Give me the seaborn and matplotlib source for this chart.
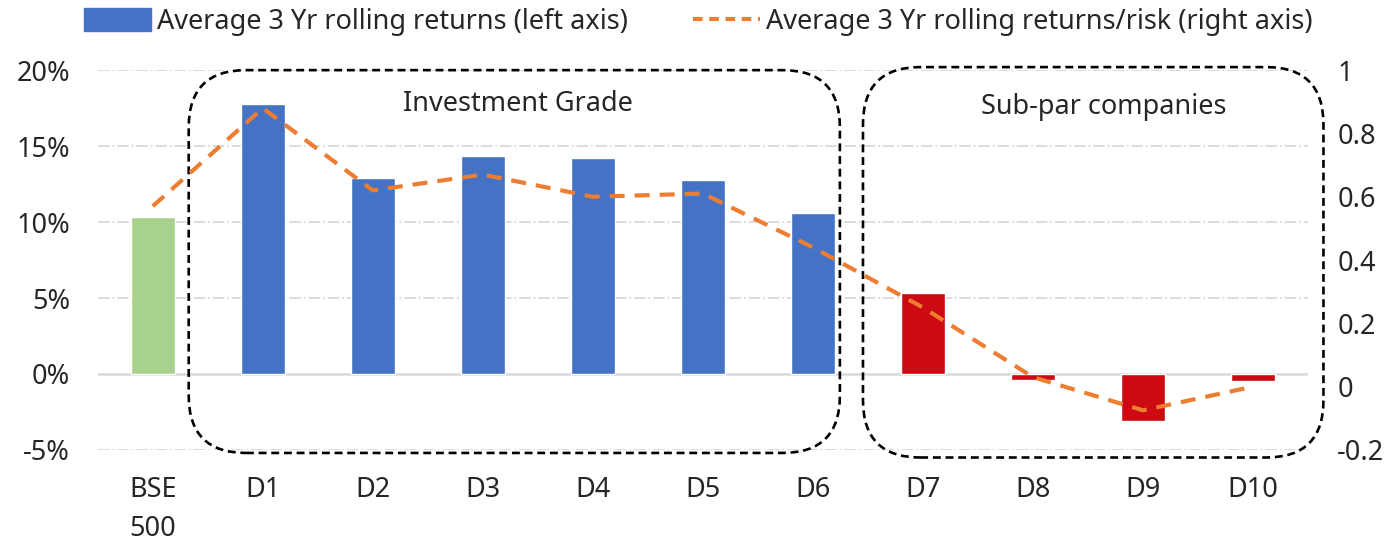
import matplotlib
matplotlib.use("Agg")
import matplotlib.pyplot as plt
import seaborn as sns
import pandas as pd
import numpy as np
from matplotlib.patches import FancyBboxPatch, Patch
from matplotlib.lines import Line2D
from matplotlib.ticker import FuncFormatter

# data
categories = ["BSE\n500", "D1", "D2", "D3", "D4", "D5", "D6", "D7", "D8", "D9", "D10"]
returns_pct = [10.3, 17.8, 12.9, 14.35, 14.2, 12.8, 10.6, 5.3, -0.42, -3.1, -0.45]
return_per_risk = [0.57, 0.88, 0.62, 0.67, 0.60, 0.61, 0.44, 0.25, 0.03, -0.075, 0.0]
bar_colors = ["#A9D18E"] + ["#4472C4"] * 6 + ["#CC0A12"] * 4

sns.set_theme(style="white")
plt.rcParams["font.family"] = ["Noto Sans", "DejaVu Sans"]
FS = 19.5

df = pd.DataFrame({"bucket": categories, "ret": returns_pct, "rr": return_per_risk})
df["pos"] = np.arange(len(df))

fig = plt.figure(figsize=(13.96, 5.48), dpi=100)
ax = fig.add_axes([0.070, 0.179, 0.867, 0.693])

sns.barplot(data=df, x="bucket", y="ret", hue="bucket",
            palette=dict(zip(categories, bar_colors)), width=0.4,
            legend=False, ax=ax, saturation=1)

ax.set_ylim(-5, 20)
ax.set_xlim(-0.5, len(categories) - 0.5)
ax.set_yticks([-5, 0, 5, 10, 15, 20])
ax.yaxis.set_major_formatter(FuncFormatter(lambda v, _: f"{v:.0f}%"))
for y in [-5, 5, 10, 15, 20]:
    ax.axhline(y, color="#D9D9D9", lw=1.3, ls="-.", zorder=0)
ax.axhline(0, color="#D9D9D9", lw=1.8, zorder=0.5)
ax.set_xlabel("")
ax.set_ylabel("")
ax.tick_params(axis="y", labelsize=FS, pad=20, length=0)
ax.tick_params(axis="x", labelsize=FS, pad=19, length=0)
for lbl in ax.get_xticklabels():
    lbl.set_horizontalalignment("center")
    lbl.set_linespacing(1.5)
for s in ax.spines.values():
    s.set_visible(False)

ax2 = ax.twinx()
sns.lineplot(data=df, x="pos", y="rr", ax=ax2, color="#ED7D31", lw=3)
ax2.lines[0].set_dashes([3.6, 2.4])
ax2.set_ylim(-0.2, 1.0)
ax2.set_yticks([-0.2, 0, 0.2, 0.4, 0.6, 0.8, 1.0])
ax2.yaxis.set_major_formatter(FuncFormatter(lambda v, _: f"{v:g}"))
ax2.tick_params(axis="y", labelsize=FS, pad=21, length=0)
ax2.set_ylabel("")
ax2.set_xlabel("")
ax2.grid(False)
for s in ax2.spines.values():
    s.set_visible(False)
ax2.set_xlim(-0.5, len(categories) - 0.5)

# dashed rounded group boxes (in left-axis data coordinates)
aspect = 110 / 15.2
for x0, x1, y0, y1, label, lx, ly in [
    (0.327, 6.245, -5.2, 20.0, "Investment Grade", 3.32, 17.8),
    (6.455, 10.64, -5.5, 20.2, "Sub-par companies", 8.64, 17.6),
]:
    box = FancyBboxPatch((x0, y0), x1 - x0, y1 - y0,
                         boxstyle="round,pad=0,rounding_size=0.52",
                         mutation_aspect=aspect, fill=False, ec="black",
                         lw=1.9, ls=(0, (3, 1.8)), clip_on=False, zorder=5)
    ax.add_patch(box)
    ax.text(lx, ly, label, ha="center", va="center", fontsize=FS, zorder=6)

handles = [Patch(color="#4472C4"),
           Line2D([], [], color="#ED7D31", lw=3, dashes=[2.3, 1.6])]
fig.legend(handles, ["Average 3 Yr rolling returns (left axis)",
                     "Average 3 Yr rolling returns/risk (right axis)"],
           loc="upper center", bbox_to_anchor=(0.5, 1.03), ncol=2,
           frameon=False, fontsize=FS, handlelength=2.5, handleheight=0.9,
           handletextpad=0.2, columnspacing=2.4)

fig.savefig("out.png", dpi=100)
